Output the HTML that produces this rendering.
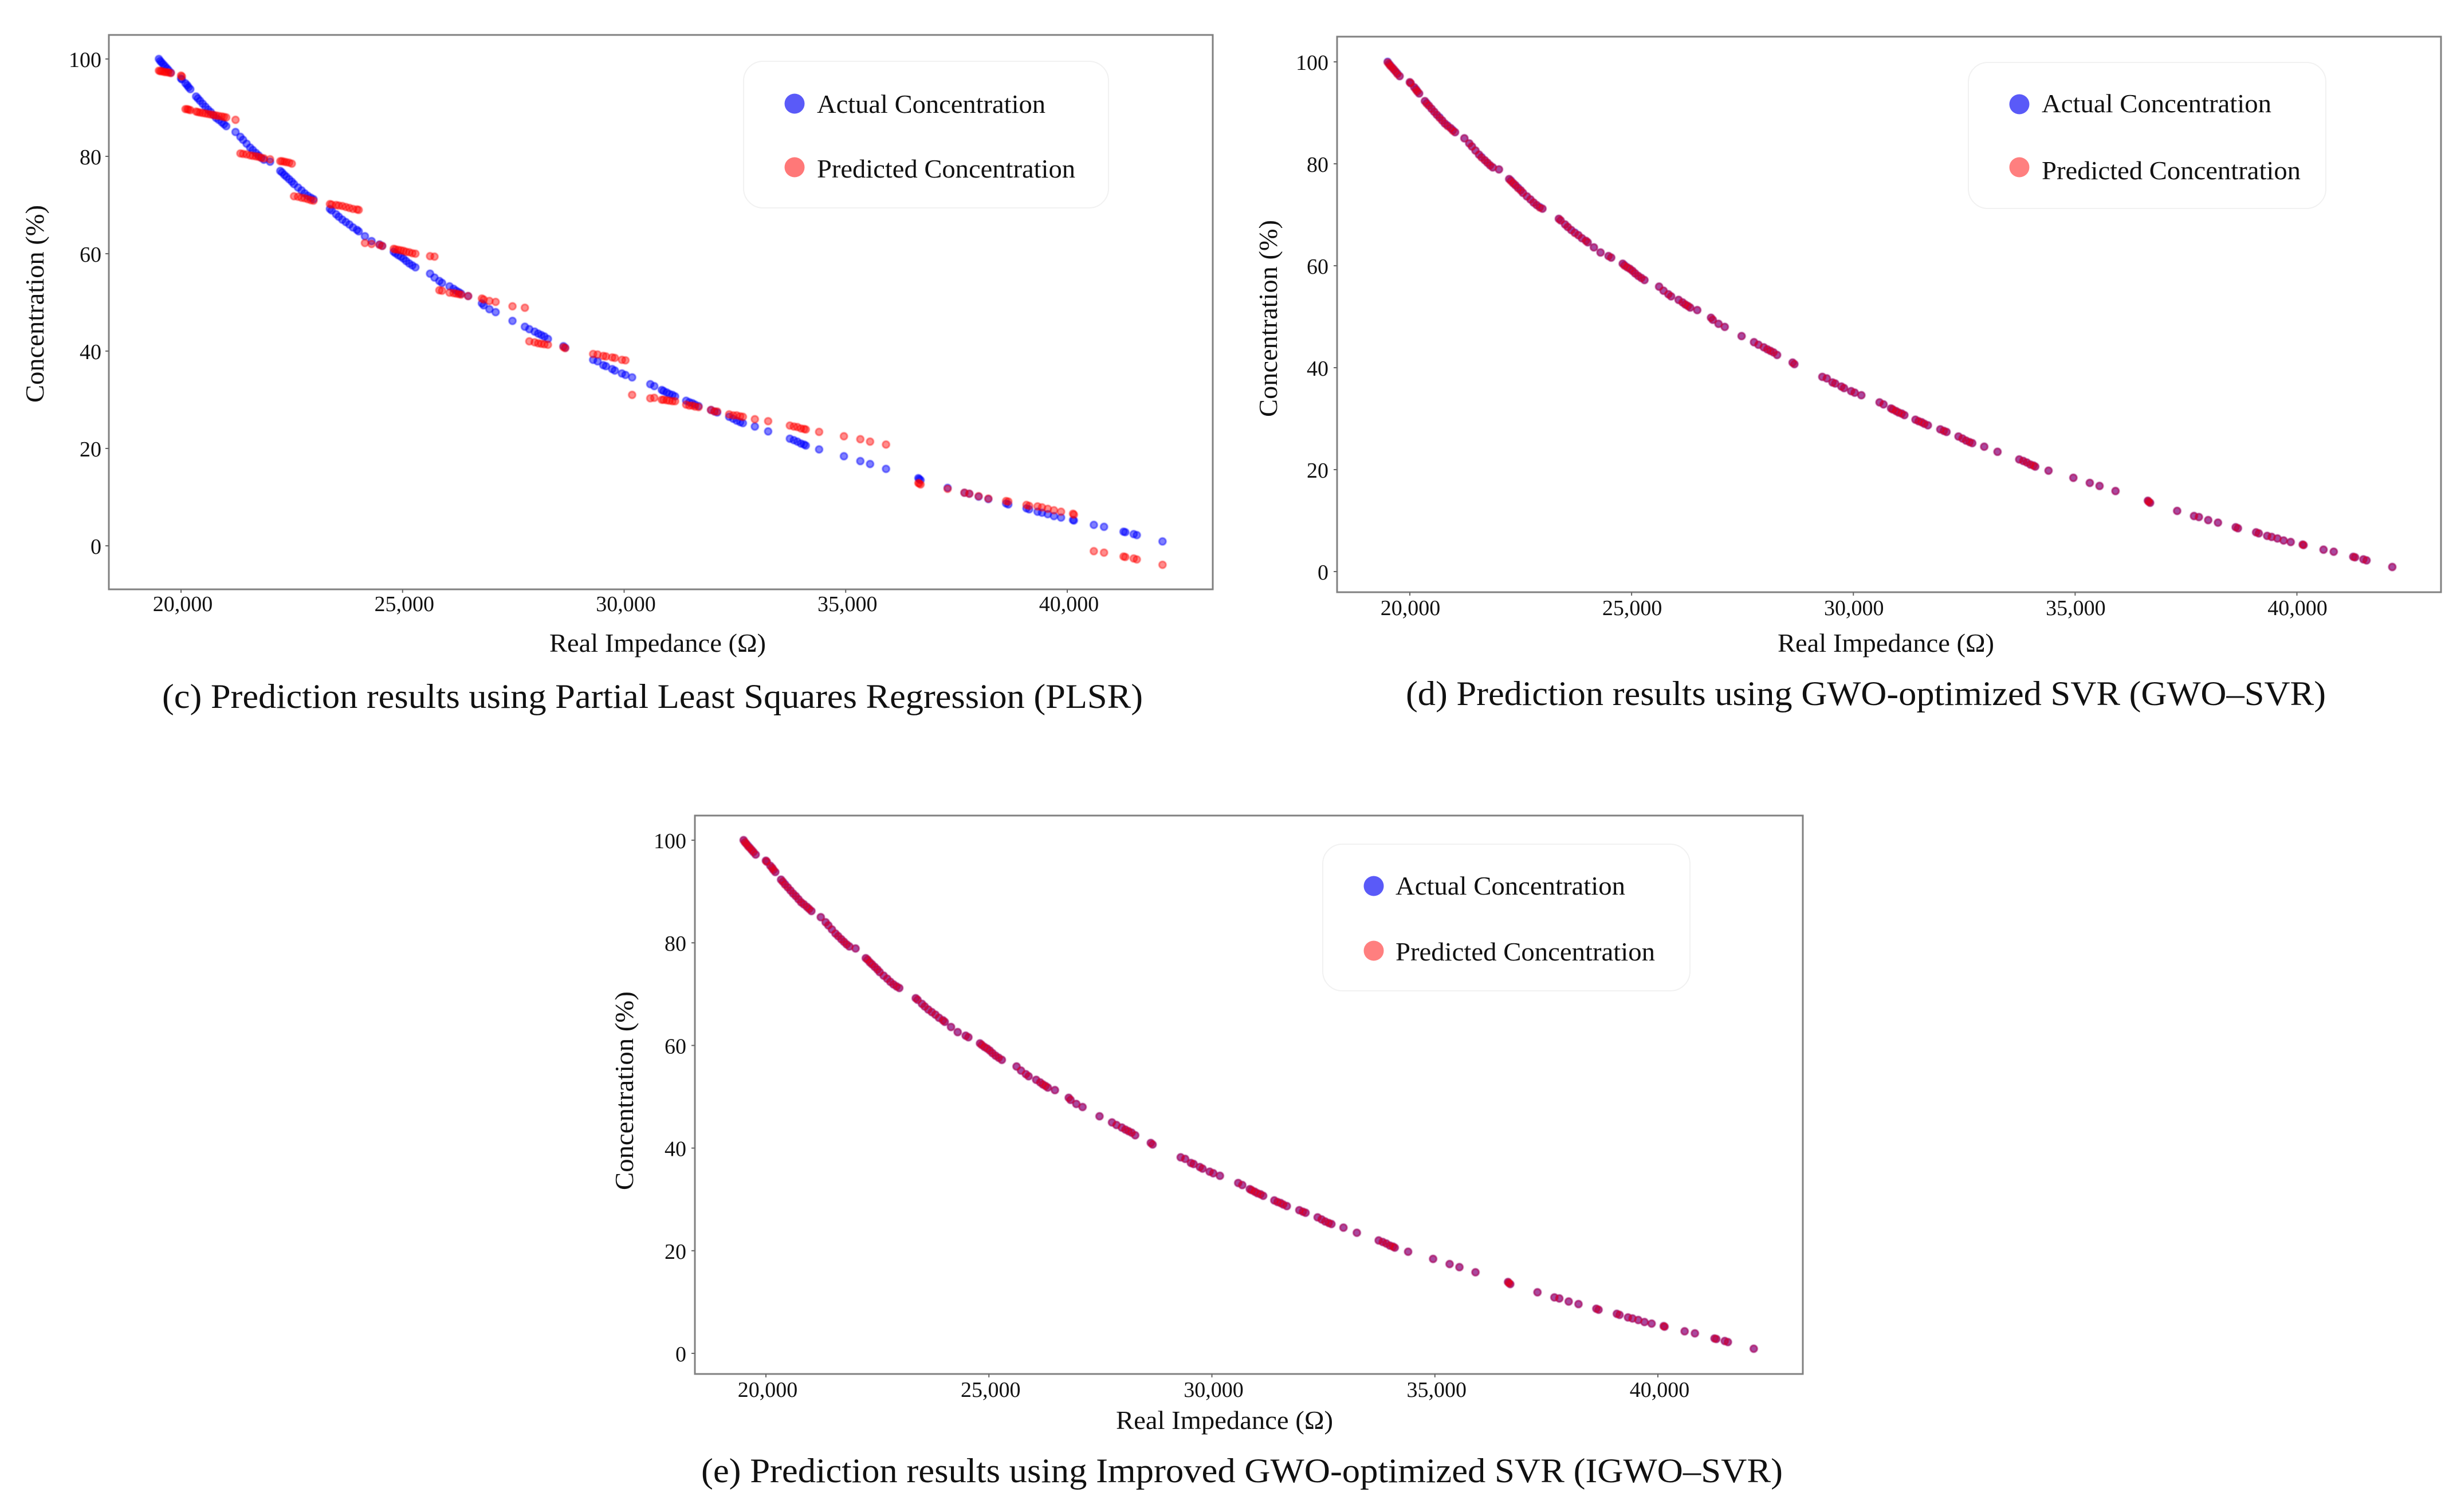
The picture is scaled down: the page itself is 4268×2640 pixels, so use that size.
<!DOCTYPE html>
<html>
<head>
<meta charset="utf-8">
<title>Prediction results charts</title>
<style>
html,body{margin:0;padding:0;background:#fff;}
svg{display:block;font-family:"Liberation Serif",serif;fill:#111;}
.frame{fill:#fff;stroke:#808080;stroke-width:3;}
.legend-box{fill:#fff;stroke:#f1f1f1;stroke-width:2;}
.axis-title{font-size:46px;}
.legend-text{font-size:46px;}
.caption{font-size:60px;}
.tick-label{font-size:38px;}
.marks{filter:blur(0.7px);}
</style>
</head>
<body>
<svg xmlns="http://www.w3.org/2000/svg" width="4268" height="2640" viewBox="0 0 4268 2640">
<rect width="4268" height="2640" fill="#fff"/>

<g id="panel-c">
  <rect class="frame" x="190" y="61" width="1927" height="968"/>
  <g id="ticks-c"></g>
  <g id="marks-c" class="marks"></g>
  <rect class="legend-box" x="1298" y="107" width="637" height="256" rx="34"/>
  <circle cx="1387" cy="181" r="17.5" fill="#5a5af8"/>
  <text class="legend-text" x="1426" y="197" textLength="399" lengthAdjust="spacingAndGlyphs">Actual Concentration</text>
  <circle cx="1387" cy="292" r="17.5" fill="#ff7878"/>
  <text class="legend-text" x="1426" y="310" textLength="451" lengthAdjust="spacingAndGlyphs">Predicted Concentration</text>
  <text class="axis-title" x="959" y="1138" textLength="378" lengthAdjust="spacingAndGlyphs">Real Impedance (Ω)</text>
  <text class="axis-title" x="-703" y="76" transform="rotate(-90)" textLength="345" lengthAdjust="spacingAndGlyphs">Concentration (%)</text>
  <text class="caption" x="283" y="1236" textLength="1712" lengthAdjust="spacingAndGlyphs">(c) Prediction results using Partial Least Squares Regression (PLSR)</text>
</g>

<g id="panel-d">
  <rect class="frame" x="2334" y="64" width="1927" height="970"/>
  <g id="ticks-d"></g>
  <g id="marks-d" class="marks"></g>
  <rect class="legend-box" x="3436" y="109" width="624" height="255" rx="34"/>
  <circle cx="3525" cy="182" r="17.5" fill="#5a5af8"/>
  <text class="legend-text" x="3564" y="196" textLength="401" lengthAdjust="spacingAndGlyphs">Actual Concentration</text>
  <circle cx="3525" cy="292" r="17.5" fill="#ff7f7f"/>
  <text class="legend-text" x="3564" y="313" textLength="452" lengthAdjust="spacingAndGlyphs">Predicted Concentration</text>
  <text class="axis-title" x="3103" y="1138" textLength="378" lengthAdjust="spacingAndGlyphs">Real Impedance (Ω)</text>
  <text class="axis-title" x="-728" y="2229" transform="rotate(-90)" textLength="344" lengthAdjust="spacingAndGlyphs">Concentration (%)</text>
  <text class="caption" x="2454" y="1231" textLength="1606" lengthAdjust="spacingAndGlyphs">(d) Prediction results using GWO-optimized SVR (GWO–SVR)</text>
</g>

<g id="panel-e">
  <rect class="frame" x="1213" y="1424" width="1934" height="975"/>
  <g id="ticks-e"></g>
  <g id="marks-e" class="marks"></g>
  <rect class="legend-box" x="2309" y="1474" width="641" height="256" rx="34"/>
  <circle cx="2398" cy="1547" r="17.5" fill="#5a5af8"/>
  <text class="legend-text" x="2436" y="1562" textLength="401" lengthAdjust="spacingAndGlyphs">Actual Concentration</text>
  <circle cx="2398" cy="1660" r="17.5" fill="#ff7f7f"/>
  <text class="legend-text" x="2436" y="1677" textLength="453" lengthAdjust="spacingAndGlyphs">Predicted Concentration</text>
  <text class="axis-title" x="1948" y="2495" textLength="379" lengthAdjust="spacingAndGlyphs">Real Impedance (Ω)</text>
  <text class="axis-title" x="-2078" y="1105" transform="rotate(-90)" textLength="347" lengthAdjust="spacingAndGlyphs">Concentration (%)</text>
  <text class="caption" x="1224" y="2588" textLength="1888" lengthAdjust="spacingAndGlyphs">(e) Prediction results using Improved GWO-optimized SVR (IGWO–SVR)</text>
</g>
</svg>

<script>
const xTickValues = [20000, 25000, 30000, 35000, 40000];
const xTickLabels = ["20,000", "25,000", "30,000", "35,000", "40,000"];
const yTickValues = [0, 20, 40, 60, 80, 100];
const yTickLabels = ["0", "20", "40", "60", "80", "100"];

const impedance = [19500,19530,19560,19600,19640,19680,19720,19770,20000,20020,20100,20140,20170,20210,20340,20380,20430,20490,20550,20610,20670,20730,20790,20850,20920,20970,21020,21230,21340,21400,21480,21560,21620,21690,21750,21810,21870,22010,22240,22280,22330,22380,22440,22500,22550,22640,22720,22790,22860,22930,22990,23360,23400,23500,23560,23640,23720,23800,23880,23970,24010,24150,24300,24480,24540,24800,24840,24900,24960,25020,25080,25150,25220,25290,25620,25720,25830,25890,26060,26150,26210,26270,26320,26480,26790,26830,26960,27100,27480,27760,27860,27980,28060,28130,28200,28280,28630,28670,29300,29400,29530,29590,29730,29790,29950,30030,30180,30590,30680,30850,30890,30960,31020,31090,31150,31400,31470,31540,31600,31680,31960,32040,32100,32370,32460,32540,32620,32680,32950,33250,33740,33830,33910,33990,34060,34100,34400,34960,35330,35550,35910,36640,36660,36690,37300,37680,37790,38000,38220,38620,38670,39080,39140,39330,39430,39560,39700,39860,40130,40150,40600,40830,41270,41310,41500,41570,42150];

const actualConcentration = [100,99.6,99.3,98.9,98.5,98.1,97.7,97.2,96,95.8,95,94.6,94.2,93.8,92.3,91.9,91.4,90.8,90.2,89.6,89.1,88.5,87.9,87.5,87,86.6,86.2,85,84,83.4,82.6,81.8,81.3,80.7,80.2,79.7,79.3,78.9,77,76.7,76.2,75.8,75.3,74.8,74.3,73.6,73,72.4,71.9,71.5,71.2,69.2,68.9,68.1,67.6,67,66.5,66,65.4,64.9,64.6,63.6,62.6,61.9,61.6,60.4,60.1,59.7,59.4,59,58.5,58,57.6,57.2,55.9,55.1,54.4,54,53.3,52.8,52.4,52.1,51.8,51.3,49.8,49.4,48.6,48,46.2,45,44.5,44,43.6,43.3,43,42.5,41,40.7,38.2,37.9,37.1,36.9,36.3,36,35.4,35.1,34.6,33.2,32.8,32,31.8,31.5,31.2,31,30.7,29.8,29.5,29.3,29,28.7,27.9,27.6,27.4,26.5,26.1,25.7,25.4,25.2,24.5,23.5,22,21.7,21.4,21,20.8,20.6,19.8,18.4,17.4,16.8,15.8,13.9,13.7,13.5,11.9,10.9,10.7,10.1,9.6,8.7,8.5,7.7,7.5,7,6.8,6.5,6.1,5.8,5.3,5.2,4.3,3.9,2.9,2.8,2.4,2.2,0.9];

const predictedPLSR = [97.6,97.5,97.5,97.4,97.3,97.3,97.2,97.1,96.6,96.4,89.7,89.7,89.6,89.5,89.2,89.1,89,88.9,88.8,88.7,88.6,88.5,88.4,88.3,88.2,88.1,88,87.5,80.6,80.5,80.4,80.2,80.1,80,79.9,79.7,79.6,79.4,79,79,78.9,78.8,78.7,78.5,71.8,71.7,71.5,71.4,71.2,71,70.9,70.2,70.1,70,69.9,69.8,69.6,69.4,69.2,69.1,69,62.2,62,61.8,61.6,61,60.9,60.8,60.7,60.6,60.4,60.3,60.1,60,59.5,59.4,52.5,52.4,52,51.9,51.8,51.7,51.6,51.3,50.8,50.6,50.3,50.1,49.2,48.9,42,41.8,41.6,41.5,41.4,41.3,40.8,40.6,39.4,39.3,39,38.9,38.7,38.6,38.2,38.1,31,30.3,30.4,30,30,29.9,29.8,29.7,29.7,29,28.8,28.8,28.6,28.5,27.9,27.6,27.6,27,26.8,26.8,26.6,26.5,26,25.6,24.7,24.5,24.4,24.1,24,23.9,23.4,22.5,21.9,21.4,20.8,12.9,12.8,12.6,11.7,10.9,10.7,10.2,9.7,9.2,9.1,8.4,8.2,8.1,7.9,7.6,7.3,7,6.6,6.4,-1.1,-1.4,-2.2,-2.3,-2.6,-2.8,-3.9];

const predictedGWO = [99.9,99.6,99.2,98.9,98.5,98.1,97.6,97.2,96,95.8,95,94.5,94.2,93.8,92.3,91.8,91.4,90.8,90.2,89.6,89,88.5,87.9,87.4,87,86.5,86.2,85,84,83.4,82.6,81.8,81.2,80.7,80.2,79.7,79.3,78.9,77,76.6,76.2,75.8,75.2,74.8,74.3,73.6,73,72.4,71.9,71.4,71.2,69.2,68.9,68.1,67.6,67,66.4,66,65.4,64.9,64.6,63.6,62.6,61.9,61.6,60.4,60,59.7,59.4,59,58.5,58,57.6,57.2,55.9,55.1,54.4,54,53.3,52.8,52.4,52.1,51.8,51.3,49.8,49.4,48.6,48,46.2,45,44.5,44,43.6,43.3,43,42.5,41,40.7,38.2,37.9,37.1,36.9,36.3,36,35.4,35.1,34.6,33.2,32.8,32,31.8,31.5,31.2,31,30.7,29.8,29.5,29.3,29,28.7,27.9,27.6,27.4,26.5,26.1,25.7,25.4,25.2,24.5,23.5,22,21.7,21.4,21,20.8,20.6,19.8,18.4,17.4,16.8,15.8,13.9,13.7,13.5,11.9,10.9,10.7,10.1,9.6,8.7,8.5,7.7,7.5,7,6.8,6.5,6.1,5.8,5.3,5.2,4.3,3.9,2.9,2.8,2.4,2.2,0.9];

const predictedIGWO = [100,99.6,99.3,98.8,98.5,98.1,97.7,97.2,96,95.8,95,94.6,94.2,93.8,92.3,91.9,91.3,90.8,90.2,89.6,89.1,88.5,87.9,87.5,87,86.6,86.2,85,84,83.4,82.6,81.8,81.3,80.7,80.2,79.7,79.3,78.9,77,76.7,76.2,75.8,75.3,74.8,74.3,73.6,73,72.4,71.9,71.5,71.2,69.2,68.9,68.1,67.6,67,66.5,66,65.4,64.9,64.6,63.6,62.6,61.9,61.6,60.4,60.1,59.7,59.4,59,58.5,58,57.6,57.2,55.9,55.1,54.4,54,53.3,52.8,52.4,52.1,51.8,51.3,49.8,49.4,48.6,48,46.2,45,44.5,44,43.6,43.3,43,42.5,41,40.7,38.2,37.9,37.1,36.9,36.3,36,35.4,35.1,34.6,33.2,32.8,32,31.8,31.5,31.2,31,30.7,29.8,29.5,29.3,29,28.7,27.9,27.6,27.4,26.5,26.1,25.7,25.4,25.2,24.5,23.5,22,21.7,21.4,21,20.8,20.6,19.8,18.4,17.4,16.8,15.8,13.9,13.7,13.5,11.9,10.9,10.7,10.1,9.6,8.7,8.5,7.7,7.5,7,6.8,6.5,6.1,5.8,5.3,5.2,4.3,3.9,2.9,2.8,2.4,2.2,0.9];

const NS = "http://www.w3.org/2000/svg";

function makeScale(v0, p0, v1, p1) {
  return function (v) { return p0 + (v - v0) * (p1 - p0) / (v1 - v0); };
}

function drawTicks(id, xScale, yScale, frameLeft, frameBottom, xLabelBase, yLabelRight, xLabelShift) {
  const group = document.getElementById("ticks-" + id);
  xTickValues.forEach(function (value, i) {
    const tick = document.createElementNS(NS, "line");
    tick.setAttribute("x1", xScale(value));
    tick.setAttribute("x2", xScale(value));
    tick.setAttribute("y1", frameBottom);
    tick.setAttribute("y2", frameBottom + 6);
    tick.setAttribute("stroke", "#666");
    tick.setAttribute("stroke-width", "2");
    
    
    group.appendChild(tick);
    const label = document.createElementNS(NS, "text");
    label.setAttribute("class", "tick-label");
    label.setAttribute("x", xScale(value) + xLabelShift);
    label.setAttribute("y", xLabelBase);
    label.setAttribute("text-anchor", "middle");
    
    
    label.textContent = xTickLabels[i];
    group.appendChild(label);
  });
  yTickValues.forEach(function (value, i) {
    const tick = document.createElementNS(NS, "line");
    tick.setAttribute("x1", frameLeft - 6);
    tick.setAttribute("x2", frameLeft);
    tick.setAttribute("y1", yScale(value));
    tick.setAttribute("y2", yScale(value));
    tick.setAttribute("stroke", "#666");
    tick.setAttribute("stroke-width", "2");
    
    
    group.appendChild(tick);
    const label = document.createElementNS(NS, "text");
    label.setAttribute("class", "tick-label");
    label.setAttribute("x", yLabelRight);
    label.setAttribute("y", yScale(value) + 14);
    label.setAttribute("text-anchor", "end");
    
    
    label.textContent = yTickLabels[i];
    group.appendChild(label);
  });
}

function drawSeries(id, values, color, pointName, xScale, yScale, fillAlpha, strokeAlpha) {
  const group = document.getElementById("marks-" + id);
  values.forEach(function (value, i) {
    const point = document.createElementNS(NS, "circle");
    point.setAttribute("cx", xScale(impedance[i]));
    point.setAttribute("cy", yScale(value));
    point.setAttribute("r", "6");
    point.setAttribute("fill", color);
    point.setAttribute("fill-opacity", fillAlpha);
    point.setAttribute("stroke", color);
    point.setAttribute("stroke-opacity", strokeAlpha);
    point.setAttribute("stroke-width", "2.4");
    
    
    group.appendChild(point);
  });
}

const xScaleC = makeScale(20000, 316, 40000, 1863);
const yScaleC = makeScale(0, 953, 100, 103);
drawTicks("c", xScaleC, yScaleC, 190, 1029, 1067, 177, 3);
drawSeries("c", actualConcentration, "#0000ff", "actual-point", xScaleC, yScaleC, 0.5, 0.55);
drawSeries("c", predictedPLSR, "#ff0000", "predicted-point", xScaleC, yScaleC, 0.45, 0.5);

const xScaleD = makeScale(20000, 2461, 40000, 4009.5);
const yScaleD = makeScale(0, 998, 100, 108);
drawTicks("d", xScaleD, yScaleD, 2334, 1034, 1074, 2319, 1);
drawSeries("d", actualConcentration, "#0000ff", "actual-point", xScaleD, yScaleD, 0.55, 0.6);
drawSeries("d", predictedGWO, "#ff0000", "predicted-point", xScaleD, yScaleD, 0.38, 0.45);

const xScaleE = makeScale(20000, 1337, 40000, 2894);
const yScaleE = makeScale(0, 2363, 100, 1467);
drawTicks("e", xScaleE, yScaleE, 1213, 2399, 2439, 1198, 3);
drawSeries("e", actualConcentration, "#0000ff", "actual-point", xScaleE, yScaleE, 0.55, 0.6);
drawSeries("e", predictedIGWO, "#ff0000", "predicted-point", xScaleE, yScaleE, 0.38, 0.45);
</script>
</body>
</html>
